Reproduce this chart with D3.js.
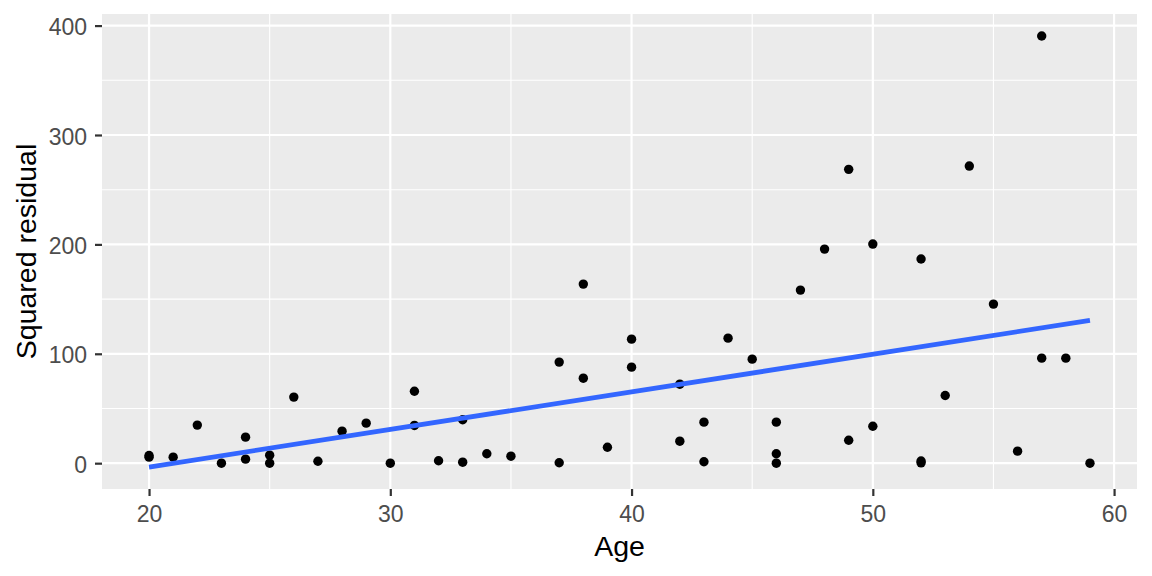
<!DOCTYPE html>
<html>
<head>
<meta charset="utf-8">
<script src="https://cdn.jsdelivr.net/npm/d3@7"></script>
<style>
  html, body { margin: 0; padding: 0; background: #fff; }
  svg { display: block; font-family: Arial, "Liberation Sans", sans-serif; }
</style>
</head>
<body>
<svg id="chart" width="1152" height="576"></svg>
<script>
// Data
const ages = [20, 20, 21, 22, 23, 24, 24, 25, 25, 26, 27, 28, 29, 30, 31, 31, 32, 33, 33, 34, 35,
              37, 37, 38, 38, 39, 40, 40, 42, 42, 43, 43, 44, 45, 46, 46, 46, 47, 48, 49, 49,
              50, 50, 52, 52, 52, 53, 54, 55, 56, 57, 57, 58, 59];
const sqResid = [7, 5.5, 5.5, 34.8, 0, 23.8, 3.7, 7.3, 0, 60.4, 1.8, 29.3, 36.6, 0, 65.8, 34.5, 2.2, 39.7, 0.9, 8.6, 6.4,
                 92.4, 0.4, 163.7, 77.7, 14.6, 113.4, 87.8, 72.2, 20.1, 37.5, 1.3, 114.3, 95.1, 37.5, 8.6, 0, 158.2, 195.7, 268.6, 21.0,
                 200.3, 33.8, 186.6, 2, 0.3, 61.9, 271.6, 145.4, 11.0, 390.5, 96.0, 96.0, 0];
// Linear smoother (geom_smooth, method = lm) end points
const fitAges = [20, 59];
const fitValues = [-3.5, 130.5];
const xTicks = [20, 30, 40, 50, 60];
const yTicks = [0, 100, 200, 300, 400];
const xMinor = [25, 35, 45, 55];
const yMinor = [50, 150, 250, 350];
const xTitle = "Age";
const yTitle = "Squared residual";

const svg = d3.select("#chart");
const panel = { left: 102, right: 1137, top: 14, bottom: 489 };
const FONT = "Arial, 'Liberation Sans', sans-serif";

const x = d3.scaleLinear().domain([18.05, 60.95]).range([panel.left, panel.right]);
const y = d3.scaleLinear().domain([-23.6, 410.6]).range([panel.bottom, panel.top]);

// Panel background
svg.append("rect")
  .attr("x", panel.left).attr("y", panel.top)
  .attr("width", panel.right - panel.left).attr("height", panel.bottom - panel.top)
  .attr("fill", "#EBEBEB");

const grid = svg.append("g");
grid.selectAll("line.xm").data(xMinor).join("line")
  .attr("x1", d => x(d)).attr("x2", d => x(d))
  .attr("y1", panel.top).attr("y2", panel.bottom)
  .attr("stroke", "#fff").attr("stroke-width", 1.1);
grid.selectAll("line.ym").data(yMinor).join("line")
  .attr("y1", d => y(d)).attr("y2", d => y(d))
  .attr("x1", panel.left).attr("x2", panel.right)
  .attr("stroke", "#fff").attr("stroke-width", 1.1);
grid.selectAll("line.xM").data(xTicks).join("line")
  .attr("x1", d => x(d)).attr("x2", d => x(d))
  .attr("y1", panel.top).attr("y2", panel.bottom)
  .attr("stroke", "#fff").attr("stroke-width", 2.2);
grid.selectAll("line.yM").data(yTicks).join("line")
  .attr("y1", d => y(d)).attr("y2", d => y(d))
  .attr("x1", panel.left).attr("x2", panel.right)
  .attr("stroke", "#fff").attr("stroke-width", 2.2);

// Axes
const xAxis = d3.axisBottom(x).tickValues(xTicks).tickSize(7).tickPadding(10);
const gx = svg.append("g").attr("transform", `translate(0,${panel.bottom})`).call(xAxis);
gx.select(".domain").remove();
gx.selectAll(".tick line").attr("stroke", "#333").attr("stroke-width", 2.2);
gx.selectAll(".tick text").attr("fill", "#4D4D4D").attr("font-size", 23).attr("font-family", FONT);

const yAxis = d3.axisLeft(y).tickValues(yTicks).tickSize(7).tickPadding(8);
const gy = svg.append("g").attr("transform", `translate(${panel.left},0)`).call(yAxis);
gy.select(".domain").remove();
gy.selectAll(".tick line").attr("stroke", "#333").attr("stroke-width", 2.2);
gy.selectAll(".tick text").attr("fill", "#4D4D4D").attr("font-size", 23).attr("font-family", FONT)
  .attr("dy", "0.4em");

// Points
const pts = ages.map((a, i) => ({ a, v: sqResid[i] }));
svg.append("g").selectAll("circle").data(pts).join("circle")
  .attr("cx", d => x(d.a)).attr("cy", d => y(d.v))
  .attr("r", 4.7).attr("fill", "#000");

// Smooth line
const fit = fitAges.map((a, i) => [a, fitValues[i]]);
svg.append("path")
  .datum(fit)
  .attr("d", d3.line().x(d => x(d[0])).y(d => y(d[1])))
  .attr("fill", "none").attr("stroke", "#3366FF").attr("stroke-width", 4.8);

// Titles
svg.append("text").attr("x", (panel.left + panel.right) / 2).attr("y", 556)
  .attr("text-anchor", "middle").attr("font-size", 28.5).attr("fill", "#000").attr("font-family", FONT)
  .text(xTitle);
svg.append("text")
  .attr("transform", `translate(36,${(panel.top + panel.bottom) / 2}) rotate(-90)`)
  .attr("text-anchor", "middle").attr("font-size", 28.5).attr("fill", "#000").attr("font-family", FONT)
  .text(yTitle);
</script>
</body>
</html>
